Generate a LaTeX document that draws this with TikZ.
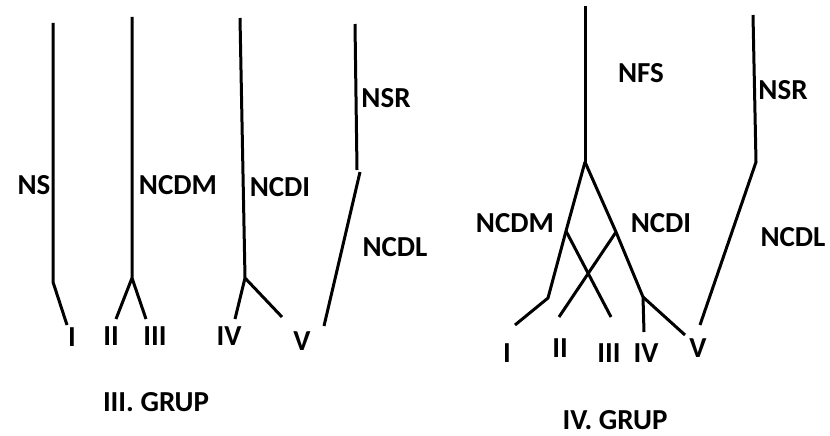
\documentclass[tikz,border=0pt]{standalone}
\usepackage{fontspec}
\setmainfont{Carlito}
\begin{document}
\begin{tikzpicture}[x=1pt,y=-1pt,
  br/.style={line width=3pt, line join=miter},
  lbl/.style={font=\bfseries\fontsize{29}{30}\selectfont, inner sep=0pt}]
\useasboundingbox[fill=white] (0,0) rectangle (830,436);
% ---------- III. GRUP ----------
\coordinate (a1) at (53,23); \coordinate (a2) at (53,282); \coordinate (a3) at (67,325);
\coordinate (b1) at (132,17); \coordinate (b2) at (132,278); \coordinate (b3) at (116,319); \coordinate (b4) at (146,319);
\coordinate (c1) at (240,18); \coordinate (c2) at (245,278); \coordinate (c3) at (235,319); \coordinate (c4) at (282,317);
\coordinate (d1) at (355,24); \coordinate (d2) at (357,170); \coordinate (d3) at (360,172); \coordinate (d4) at (324,326);
\draw[br] (a1) -- (a2) -- (a3);
\draw[br] (b1) -- (b2) (b3) -- (b2) -- (b4);
\draw[br] (c1) -- (c2) (c3) -- (c2) -- (c4);
\draw[br] (d1) -- (d2);
\draw[br] (d3) -- (d4);
\node[lbl] (ns) at (34,185) {NS};
\node[lbl] (ncdmA) at (178,185) {NCDM};
\node[lbl] (ncdiA) at (280,187) {NCDI};
\node[lbl] (nsrA) at (386,98) {NSR};
\node[lbl] (ncdlA) at (395,247) {NCDL};
\node[lbl] (iA) at (72,337) {I};
\node[lbl] (iiA) at (111,336) {II};
\node[lbl] (iiiA) at (155,336) {III};
\node[lbl] (ivA) at (229,336) {IV};
\node[lbl] (vA) at (302,341) {V};
\node[lbl] (g3t) at (156,402) {III. GRUP};
% ---------- IV. GRUP ----------
\coordinate (e1) at (585,6); \coordinate (e2) at (585,162);
\coordinate (f1) at (566,231); \coordinate (f2) at (548,298); \coordinate (f3) at (515,325); \coordinate (f4) at (611,317);
\coordinate (g1) at (616,232); \coordinate (g2) at (643,297); \coordinate (g3) at (644,332); \coordinate (g4) at (685,335); \coordinate (g5) at (559,317);
\coordinate (h1) at (753,15); \coordinate (h2) at (756,162); \coordinate (h3) at (700,325);
\draw[br] (e1) -- (e2);
\draw[br] (e2) -- (f1) -- (f2) -- (f3);
\draw[br] (f1) -- (f4);
\draw[br] (e2) -- (g1) -- (g2) -- (g3);
\draw[br] (g2) -- (g4);
\draw[br] (g1) -- (g5);
\draw[br] (h1) -- (h2) -- (h3);
\node[lbl] (nfs) at (641,73) {NFS};
\node[lbl] (nsrB) at (783,90) {NSR};
\node[lbl] (ncdmB) at (515,223) {NCDM};
\node[lbl] (ncdiB) at (661,223) {NCDI};
\node[lbl] (ncdlB) at (793,237) {NCDL};
\node[lbl] (iB) at (507,353) {I};
\node[lbl] (iiB) at (560,348) {II};
\node[lbl] (iiiB) at (609,353) {III};
\node[lbl] (ivB) at (646,353) {IV};
\node[lbl] (vB) at (698,348) {V};
\node[lbl] (g4t) at (615,420) {IV. GRUP};
\end{tikzpicture}
\end{document}
